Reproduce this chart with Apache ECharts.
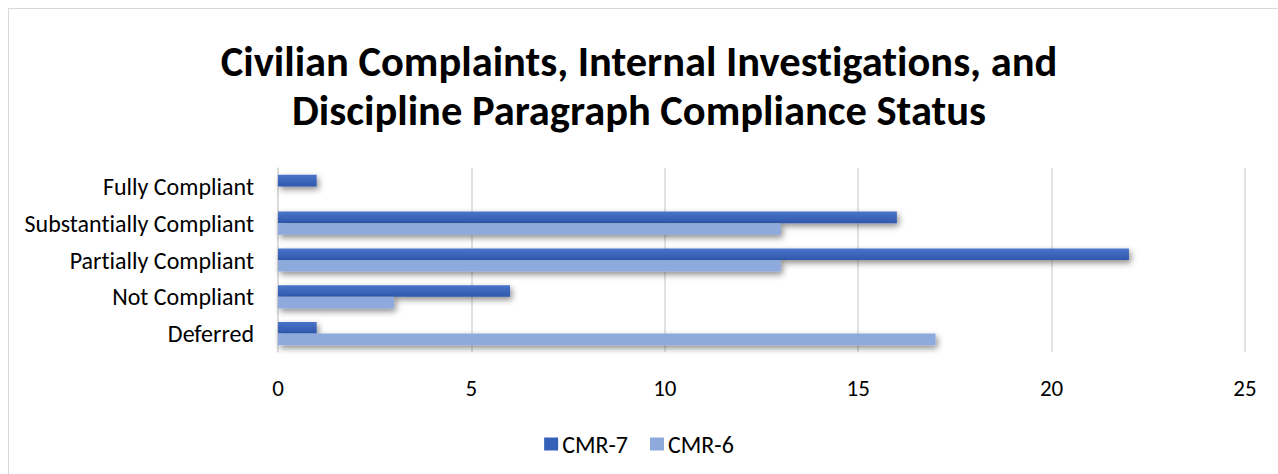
<!DOCTYPE html>
<html>
<head>
<meta charset="utf-8">
<script src="https://cdn.jsdelivr.net/npm/echarts@6/dist/echarts.min.js"></script>
<style>
  html, body { margin: 0; padding: 0; background: #fff; }
  #frame { position: absolute; left: 8px; top: 8px; width: 1290px; height: 490px; border: 1px solid #d9d9d9; box-sizing: border-box; }
  #chart { position: absolute; left: 0; top: 0; width: 1278px; height: 474px; }
  #chart text { font-variant-ligatures: none; font-feature-settings: "liga" 0, "clig" 0; }
</style>
</head>
<body>
<div id="frame"></div>
<div id="chart"></div>
<script>
// Compliance categories, top to bottom as shown
const categories = ['Fully Compliant', 'Substantially Compliant', 'Partially Compliant', 'Not Compliant', 'Deferred'];
const cmr7 = [1, 16, 22, 6, 1];
const cmr6 = [0, 13, 13, 3, 17];
const xTicks = [0, 5, 10, 15, 20, 25];

const font = 'Calibri, Carlito, "Open Sans", "Noto Sans", sans-serif';
const chart = echarts.init(document.getElementById('chart'), null, { renderer: 'svg' });

const barShadow = { shadowColor: 'rgba(0,0,0,0.45)', shadowBlur: 6, shadowOffsetX: 2, shadowOffsetY: 3 };

chart.setOption({
  animation: false,
  title: {
    text: 'Civilian Complaints, Internal Investigations, and\nDiscipline Paragraph Compliance Status',
    left: 'center',
    top: 32,
    textStyle: { fontFamily: font, fontWeight: 'bold', fontSize: 42.5, lineHeight: 49, color: '#000' }
  },
  legend: {
    top: 427,
    left: 'center',
    itemWidth: 14,
    itemHeight: 13,
    itemGap: 22,
    icon: 'rect',
    itemStyle: { shadowBlur: 0, shadowOffsetX: 0, shadowOffsetY: 0, borderWidth: 0 },
    textStyle: { fontFamily: font, fontSize: 24, color: '#000', padding: [0, 0, 0, -1] },
    data: [
      { name: 'CMR-7', itemStyle: { color: '#3661b8' } },
      { name: 'CMR-6', itemStyle: { color: '#8eaadc' } }
    ]
  },
  grid: { left: 278, right: 33, top: 168, bottom: 122, containLabel: false },
  xAxis: {
    type: 'value',
    min: 0, max: 25, interval: 5,
    axisLine: { show: false },
    axisTick: { show: false },
    splitLine: { show: true, lineStyle: { color: '#d9d9d9', width: 1.5 } },
    axisLabel: { fontFamily: font, fontSize: 23, color: '#000', margin: 24,
      formatter: v => xTicks.includes(v) ? String(v) : '' }
  },
  yAxis: {
    type: 'category',
    inverse: true,
    data: categories,
    axisLine: { show: true, lineStyle: { color: '#d9d9d9', width: 1.5 } },
    axisTick: { show: false },
    axisLabel: { fontFamily: font, fontSize: 24, color: '#000', margin: 24 }
  },
  series: [
    {
      name: 'CMR-7', type: 'bar', data: cmr7,
      barGap: '0%', barCategoryGap: '37%',
      itemStyle: Object.assign({
        color: new echarts.graphic.LinearGradient(0, 0, 0, 1, [
          { offset: 0, color: '#4a74c9' }, { offset: 1, color: '#2f58ad' }
        ])
      }, barShadow)
    },
    {
      name: 'CMR-6', type: 'bar', data: cmr6,
      itemStyle: Object.assign({ color: '#8eaadc' }, barShadow)
    }
  ]
});
</script>
</body>
</html>
